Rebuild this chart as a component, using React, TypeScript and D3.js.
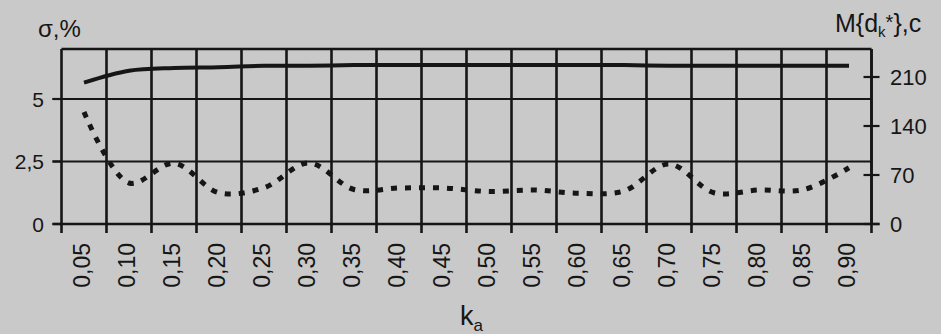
import React, { useEffect, useRef } from "react";
import * as d3 from "d3";

// k_a categories along the bottom
const categories = [
  "0,05", "0,10", "0,15", "0,20", "0,25", "0,30", "0,35", "0,40", "0,45",
  "0,50", "0,55", "0,60", "0,65", "0,70", "0,75", "0,80", "0,85", "0,90",
];

// dashed line, left axis (σ, %)
const sigmaValues = [
  4.48, 1.64, 2.43, 1.25, 1.45, 2.44, 1.38, 1.44, 1.44,
  1.3, 1.36, 1.23, 1.32, 2.4, 1.25, 1.36, 1.38, 2.25,
];

// solid line, right axis (M{dk*}, c)
const delayValues = [
  202, 219, 223, 224, 226, 226, 227, 227, 227,
  227, 227, 227, 227, 226, 226, 226, 226, 226,
];

const sigmaTicks = [0, 2.5, 5];
const delayTicks = [0, 70, 140, 210];

const FONT = "'Liberation Sans', Arial, sans-serif";
const INK = "#161616";

const App = () => {
  const ref = useRef<SVGSVGElement>(null);

  useEffect(() => {
    const svg = d3.select(ref.current);
    svg.selectAll("*").remove();

    const left = 61.5, right = 871.5, top = 49, bottom = 224;

    const x = d3.scaleBand().domain(categories).range([left, right]).padding(0);
    const yLeft = d3.scaleLinear().domain([0, 7]).range([bottom, top]);
    const yRight = d3.scaleLinear().domain([0, 250]).range([bottom, top]);
    const cx = (c: string) => (x(c) as number) + x.bandwidth() / 2;

    svg.append("rect").attr("width", 941).attr("height", 334).attr("fill", "#c9c9c9");

    // horizontal grid
    svg
      .selectAll(".hgrid")
      .data(sigmaTicks.filter((d) => d > 0))
      .enter()
      .append("line")
      .attr("x1", left - 9)
      .attr("x2", right)
      .attr("y1", (d) => yLeft(d))
      .attr("y2", (d) => yLeft(d))
      .attr("stroke", INK)
      .attr("stroke-width", 2);

    // vertical grid + bottom ticks at band edges
    const edges = categories.map((c) => x(c) as number).concat([right]);
    svg
      .selectAll(".vgrid")
      .data(edges)
      .enter()
      .append("line")
      .attr("x1", (d) => d)
      .attr("x2", (d) => d)
      .attr("y1", top)
      .attr("y2", bottom + 9)
      .attr("stroke", INK)
      .attr("stroke-width", 2.6);

    // plot frame top
    svg
      .append("line")
      .attr("x1", left)
      .attr("x2", right)
      .attr("y1", top)
      .attr("y2", top)
      .attr("stroke", INK)
      .attr("stroke-width", 2.4);

    // x axis line
    svg
      .append("line")
      .attr("x1", left - 9)
      .attr("x2", right + 8)
      .attr("y1", bottom)
      .attr("y2", bottom)
      .attr("stroke", INK)
      .attr("stroke-width", 2.6);

    // left ticks and labels
    svg
      .selectAll(".ltick")
      .data(sigmaTicks)
      .enter()
      .append("line")
      .attr("x1", left - 9)
      .attr("x2", left)
      .attr("y1", (d) => yLeft(d))
      .attr("y2", (d) => yLeft(d))
      .attr("stroke", INK)
      .attr("stroke-width", 2.2);

    svg
      .selectAll(".llabel")
      .data(sigmaTicks)
      .enter()
      .append("text")
      .attr("x", 44)
      .attr("y", (d) => yLeft(d))
      .attr("dy", "0.36em")
      .attr("text-anchor", "end")
      .attr("font-family", FONT)
      .attr("font-size", 21)
      .attr("fill", INK)
      .text((d) => String(d).replace(".", ","));

    // right ticks (crossing) and labels
    svg
      .selectAll(".rtick")
      .data(delayTicks)
      .enter()
      .append("line")
      .attr("x1", right - 8)
      .attr("x2", right + 8)
      .attr("y1", (d) => yRight(d))
      .attr("y2", (d) => yRight(d))
      .attr("stroke", INK)
      .attr("stroke-width", 2.2);

    svg
      .selectAll(".rlabel")
      .data(delayTicks)
      .enter()
      .append("text")
      .attr("x", 890)
      .attr("y", (d) => yRight(d))
      .attr("dy", "0.36em")
      .attr("font-family", FONT)
      .attr("font-size", 22)
      .attr("fill", INK)
      .text((d) => d);

    // right axis line
    svg
      .append("line")
      .attr("x1", right)
      .attr("x2", right)
      .attr("y1", top)
      .attr("y2", bottom)
      .attr("stroke", INK)
      .attr("stroke-width", 2.6);

    // category labels, rotated
    svg
      .selectAll(".xlabel")
      .data(categories)
      .enter()
      .append("text")
      .attr("transform", (d) => `translate(${cx(d) - 2},243)rotate(-90)`)
      .attr("dy", "0.36em")
      .attr("text-anchor", "end")
      .attr("font-family", FONT)
      .attr("font-size", 23)
      .attr("fill", INK)
      .text((d) => d);

    // solid line (right axis)
    const delayLine = d3
      .line<number>()
      .x((_, i) => cx(categories[i]))
      .y((d) => yRight(d))
      .curve(d3.curveCatmullRom.alpha(0.5));

    svg
      .append("path")
      .attr("d", delayLine(delayValues))
      .attr("fill", "none")
      .attr("stroke", INK)
      .attr("stroke-width", 4);

    // dashed line (left axis)
    const sigmaLine = d3
      .line<number>()
      .x((_, i) => cx(categories[i]))
      .y((d) => yLeft(d))
      .curve(d3.curveCatmullRom.alpha(0.5));

    svg
      .append("path")
      .attr("d", sigmaLine(sigmaValues))
      .attr("fill", "none")
      .attr("stroke", INK)
      .attr("stroke-width", 5)
      .attr("stroke-dasharray", "6 8");

    // axis titles
    svg
      .append("text")
      .attr("x", 38)
      .attr("y", 37)
      .attr("font-family", FONT)
      .attr("font-size", 24)
      .attr("fill", INK)
      .text("σ,%");

    const rTitle = svg
      .append("text")
      .attr("x", 835)
      .attr("y", 32)
      .attr("font-family", FONT)
      .attr("font-size", 25)
      .attr("fill", INK);
    rTitle.append("tspan").text("M{d");
    rTitle.append("tspan").attr("font-size", 15).attr("dy", 5).text("k");
    rTitle.append("tspan").attr("font-size", 20).attr("dy", -8).text("*");
    rTitle.append("tspan").attr("dy", 3).text("},c");

    const xTitle = svg
      .append("text")
      .attr("x", 460)
      .attr("y", 325)
      .attr("font-family", FONT)
      .attr("font-size", 27)
      .attr("fill", INK);
    xTitle.append("tspan").text("k");
    xTitle.append("tspan").attr("font-size", 17).attr("dy", 6).text("a");
  }, []);

  return (
    <svg
      ref={ref}
      width={941}
      height={334}
      style={{ position: "absolute", left: 0, top: 0 }}
    ></svg>
  );
};

export default App;
